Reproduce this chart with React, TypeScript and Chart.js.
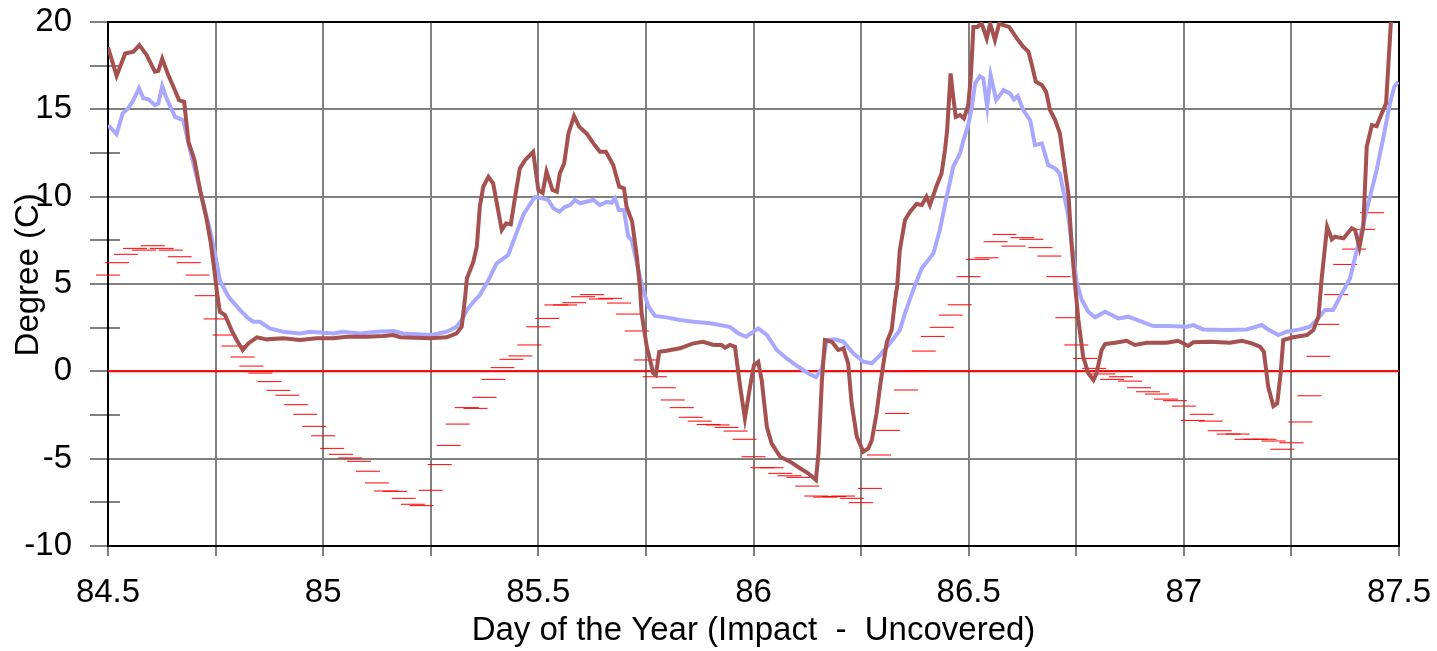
import React, { useEffect, useRef } from 'react';
import { Chart, registerables } from 'chart.js';

Chart.register(...registerables);

const FONT = '"Liberation Sans", Arial, sans-serif';

// Day-of-year axis range and tick labels
const xMin = 84.5;
const xMax = 87.5;
const xStep = 0.25;
const yMin = -10;
const yMax = 20;
const yStep = 2.5;

// Impact (brown) series
const impactDays = [
  84.500, 84.520, 84.540, 84.559, 84.573, 84.590, 84.609, 84.617, 84.626, 84.640,
  84.652, 84.665, 84.677, 84.687, 84.701, 84.714, 84.728, 84.739, 84.749, 84.754,
  84.760, 84.772, 84.787, 84.799, 84.813, 84.826, 84.846, 84.869, 84.907, 84.946,
  84.985, 85.023, 85.055, 85.101, 85.140, 85.163, 85.179, 85.248, 85.287, 85.310,
  85.322, 85.330, 85.334, 85.349, 85.357, 85.364, 85.372, 85.384, 85.395, 85.415,
  85.425, 85.436, 85.446, 85.457, 85.469, 85.488, 85.500, 85.510, 85.519, 85.533,
  85.543, 85.550, 85.560, 85.570, 85.583, 85.595, 85.612, 85.628, 85.643, 85.657,
  85.674, 85.688, 85.699, 85.705, 85.718, 85.729, 85.736, 85.740, 85.752, 85.767,
  85.773, 85.781, 85.798, 85.829, 85.860, 85.883, 85.907, 85.926, 85.934, 85.945,
  85.957, 85.969, 85.980, 85.992, 86.001, 86.011, 86.019, 86.031, 86.042, 86.062,
  86.085, 86.108, 86.127, 86.145, 86.151, 86.159, 86.166, 86.182, 86.197, 86.209,
  86.220, 86.228, 86.240, 86.255, 86.267, 86.275, 86.286, 86.294, 86.302, 86.310,
  86.321, 86.329, 86.334, 86.340, 86.352, 86.364, 86.379, 86.391, 86.402, 86.410,
  86.418, 86.426, 86.437, 86.445, 86.450, 86.458, 86.464, 86.470, 86.480, 86.489,
  86.499, 86.505, 86.511, 86.520, 86.530, 86.542, 86.550, 86.561, 86.571, 86.581,
  86.594, 86.612, 86.627, 86.639, 86.646, 86.656, 86.670, 86.680, 86.689, 86.701,
  86.712, 86.732, 86.739, 86.747, 86.755, 86.766, 86.778, 86.790, 86.797, 86.809,
  86.817, 86.840, 86.867, 86.886, 86.914, 86.960, 86.987, 87.010, 87.022, 87.061,
  87.107, 87.135, 87.158, 87.177, 87.186, 87.196, 87.208, 87.217, 87.225, 87.231,
  87.254, 87.286, 87.301, 87.313, 87.320, 87.324, 87.333, 87.344, 87.351, 87.371,
  87.390, 87.398, 87.408, 87.417, 87.425, 87.437, 87.448, 87.460, 87.470, 87.481,
  87.490,
];
const impactTemps = [
  18.55, 16.92, 18.2, 18.3, 18.68, 18.1, 17.15, 17.2, 17.9, 16.96,
  16.29, 15.53, 15.43, 13.14, 12.1, 10.38, 8.85, 7.33, 5.42, 4.37,
  3.41, 3.22, 2.36, 1.79, 1.22, 1.60, 1.95, 1.83, 1.89, 1.79,
  1.89, 1.89, 1.98, 1.98, 2.02, 2.08, 1.95, 1.89, 1.95, 2.17,
  2.55, 4.27, 5.32, 6.27, 7.13, 9.42, 10.57, 11.14, 10.76, 8.09,
  8.47, 8.41, 9.99, 11.62, 12.09, 12.57, 10.38, 10.22, 11.43, 10.38,
  10.28, 11.33, 11.9, 13.62, 14.61, 14.0, 13.62, 13.05, 12.57, 12.57,
  11.81, 10.57, 10.47, 9.42, 8.56, 6.56, 4.84, 3.32, 1.41, -0.11,
  -0.21, 1.12, 1.18, 1.32, 1.60, 1.69, 1.51, 1.51, 1.35, 1.51,
  1.41, -0.88, -2.69, -0.88, 0.36, 0.55, -0.50, -3.17, -4.12, -4.89,
  -5.17, -5.55, -5.84, -6.22, -4.69, -0.50, 1.79, 1.69, 1.22, 1.32,
  0.46, -1.83, -3.74, -4.60, -4.41, -3.93, -2.40, -0.88, 0.46, 1.69,
  2.36, 4.08, 4.9, 6.94, 8.66, 9.14, 9.58, 9.52, 9.99, 9.52,
  10.09, 10.66, 11.33, 12.67, 13.81, 17.06, 15.72, 14.57, 14.67, 14.48,
  15.24, 16.86, 19.72, 19.72, 19.92, 19.06, 19.92, 18.96, 19.92, 19.82,
  19.72, 19.06, 18.58, 18.29, 17.63, 16.58, 16.39, 16.00, 14.96, 14.38,
  13.62, 10.09, 7.33, 5.0, 2.94, 0.84, -0.11, -0.50, -0.11, 1.22,
  1.56, 1.64, 1.75, 1.51, 1.64, 1.64, 1.75, 1.45, 1.66, 1.69,
  1.64, 1.75, 1.60, 1.41, 1.12, -0.88, -1.99, -1.83, -0.11, 1.79,
  1.95, 2.08, 2.36, 3.13, 5.23, 6.18, 8.28, 7.56, 7.71, 7.61,
  8.19, 8.09, 7.10, 8.28, 12.86, 14.10, 14.04, 14.77, 15.34, 19.92,
  21.5,
];

// Uncovered (light blue) series
const uncoveredDays = [
  84.500, 84.520, 84.534, 84.547, 84.559, 84.572, 84.582, 84.594, 84.609, 84.617,
  84.626, 84.636, 84.656, 84.675, 84.687, 84.706, 84.721, 84.737, 84.753, 84.760,
  84.780, 84.807, 84.826, 84.838, 84.853, 84.876, 84.907, 84.946, 84.969, 85.024,
  85.047, 85.086, 85.124, 85.163, 85.186, 85.252, 85.287, 85.310, 85.322, 85.334,
  85.353, 85.364, 85.380, 85.388, 85.403, 85.419, 85.430, 85.446, 85.465, 85.477,
  85.492, 85.512, 85.523, 85.535, 85.549, 85.562, 85.574, 85.585, 85.597, 85.628,
  85.643, 85.659, 85.670, 85.678, 85.687, 85.699, 85.709, 85.717, 85.729, 85.743,
  85.756, 85.771, 85.798, 85.829, 85.860, 85.899, 85.945, 85.965, 85.983, 86.011,
  86.031, 86.054, 86.077, 86.104, 86.127, 86.145, 86.159, 86.170, 86.189, 86.209,
  86.232, 86.255, 86.275, 86.294, 86.317, 86.340, 86.352, 86.371, 86.391, 86.418,
  86.433, 86.449, 86.464, 86.480, 86.488, 86.499, 86.507, 86.515, 86.526, 86.534,
  86.543, 86.551, 86.564, 86.581, 86.596, 86.605, 86.614, 86.627, 86.643, 86.654,
  86.670, 86.685, 86.701, 86.712, 86.731, 86.751, 86.763, 86.778, 86.794, 86.817,
  86.848, 86.871, 86.929, 86.968, 87.007, 87.022, 87.045, 87.100, 87.146, 87.181,
  87.196, 87.220, 87.239, 87.270, 87.293, 87.309, 87.328, 87.347, 87.367, 87.386,
  87.402, 87.425, 87.448, 87.464, 87.479, 87.489, 87.498,
];
const uncoveredTemps = [
  14.10, 13.58, 14.77, 15.06, 15.53, 16.2, 15.63, 15.57, 15.24, 15.34,
  16.33, 15.63, 14.57, 14.38, 13.05, 11.14, 9.62, 8.09, 6.18, 5.2,
  4.27, 3.51, 3.03, 2.84, 2.84, 2.46, 2.27, 2.17, 2.27, 2.17,
  2.27, 2.17, 2.27, 2.31, 2.17, 2.08, 2.27, 2.55, 2.94, 3.51,
  4.08, 4.37, 5.04, 5.42, 6.18, 6.47, 6.66, 7.71, 8.95, 9.42,
  9.99, 9.9, 9.81, 9.33, 9.14, 9.42, 9.52, 9.81, 9.62, 9.81,
  9.52, 9.71, 9.65, 9.9, 9.23, 9.23, 7.71, 7.52, 6.18, 4.7,
  3.70, 3.17, 3.09, 2.94, 2.84, 2.75, 2.55, 2.17, 1.98, 2.46,
  2.08, 1.22, 0.74, 0.26, -0.11, -0.34, 0.17, 1.79, 1.83, 1.69,
  1.03, 0.55, 0.46, 0.93, 1.60, 2.36, 3.32, 4.65, 5.90, 6.75,
  8.09, 9.99, 11.71, 12.48, 13.24, 14.10, 15.06, 16.49, 16.9, 16.77,
  15.15, 16.96, 15.53, 16.10, 15.91, 15.57, 15.76, 14.96, 14.38, 12.95,
  13.05, 11.81, 11.62, 11.3, 8.95, 5.1, 4.08, 3.41, 3.09, 3.41,
  3.03, 3.13, 2.59, 2.59, 2.55, 2.65, 2.40, 2.36, 2.40, 2.65,
  2.40, 2.08, 2.27, 2.40, 2.55, 2.94, 3.51, 3.51, 4.46, 5.3,
  6.94, 9.23, 11.52, 13.43, 15.34, 16.29, 16.58,
];

// Half-hourly difference readings (red dash markers), starting at day 84.5
const diffStartDay = 84.5;
const diffReadingsPerDay = 48;
const diffTemps = [
  5.51, 6.22, 6.70, 7.04, 6.94, 7.19, 7.04, 6.94, 6.56, 6.22,
  5.51, 4.33, 3.00, 2.08, 1.45, 0.82, 0.30, -0.10, -0.59, -1.09,
  -1.37, -1.91, -2.46, -3.15, -3.69, -4.41, -4.75, -4.96, -5.15, -5.72,
  -6.39, -6.85, -6.87, -7.27, -7.61, -7.69, -6.81, -5.34, -4.24, -3.02,
  -2.08, -2.12, -1.49, -0.46, 0.21, 0.69, 0.88, 1.51, 2.55, 3.03,
  3.80, 3.80, 3.93, 4.27, 4.39, 4.14, 4.18, 3.91, 3.28, 2.31,
  0.65, -0.31, -0.94, -1.64, -2.08, -2.63, -2.85, -3.04, -3.07, -3.21,
  -3.42, -3.89, -4.89, -5.52, -5.52, -5.84, -5.98, -6.07, -6.57, -7.14,
  -7.20, -7.17, -7.14, -7.27, -7.52, -6.70, -4.79, -3.38, -2.41, -1.07,
  0.03, 1.16, 2.00, 2.52, 3.22, 3.81, 5.42, 6.41, 6.50, 7.42,
  7.84, 7.17, 7.65, 7.56, 7.08, 6.60, 5.42, 3.07, 1.51, 0.74,
  0.17, -0.15, -0.46, -0.31, -0.56, -0.94, -1.17, -1.30, -1.59, -1.68,
  -1.99, -2.81, -2.46, -2.85, -3.40, -3.59, -3.59, -3.89, -3.89, -3.89,
  -3.99, -4.46, -4.09, -2.90, -1.40, 0.86, 2.69, 4.39, 6.12, 7.00,
  8.13, 9.08,
];

// Zero reference line
const zeroDays = [xMin, xMax];
const zeroTemps = [0, 0];

const toPoints = (xs: number[], ys: number[]) => xs.map((x, i) => ({ x, y: ys[i] }));

// Black frame round the plot area, plus the short inward part of the minor y tick marks
const framePlugin = {
  id: 'frame',
  beforeDatasetsDraw(chart: any) {
    const { ctx, chartArea: a } = chart;
    const yScale = chart.scales.y;
    ctx.save();
    ctx.strokeStyle = '#808080';
    ctx.lineWidth = 2;
    yScale.ticks.forEach((t: any) => {
      if (t.value % 5 !== 0) {
        const py = Math.round(yScale.getPixelForValue(t.value));
        ctx.beginPath();
        ctx.moveTo(a.left, py);
        ctx.lineTo(a.left + 12, py);
        ctx.stroke();
      }
    });
    ctx.strokeStyle = '#000000';
    ctx.strokeRect(a.left, a.top, a.right - a.left, a.bottom - a.top);
    ctx.restore();
  },
};

const clearPadding = (s: any) => {
  s.paddingTop = 0;
  s.paddingBottom = 0;
  s.paddingLeft = 0;
  s.paddingRight = 0;
};

export default function App() {
  const canvasRef = useRef<HTMLCanvasElement>(null);

  useEffect(() => {
    const canvas = canvasRef.current;
    if (!canvas) return;
    const diffDays = diffTemps.map((_, i) => diffStartDay + i / diffReadingsPerDay);

    const chart = new Chart(canvas, {
      type: 'line',
      data: {
        datasets: [
          {
            label: 'Impact',
            data: toPoints(impactDays, impactTemps),
            borderColor: '#a5514f',
            borderWidth: 4,
            pointRadius: 0,
            tension: 0,
          },
          {
            label: 'Uncovered',
            data: toPoints(uncoveredDays, uncoveredTemps),
            borderColor: '#a8a8ff',
            borderWidth: 4,
            pointRadius: 0,
            tension: 0,
          },
          {
            label: 'Zero',
            data: toPoints(zeroDays, zeroTemps),
            borderColor: '#ff0000',
            borderWidth: 2,
            pointRadius: 0,
          },
          {
            label: 'Difference',
            data: toPoints(diffDays, diffTemps),
            showLine: false,
            pointStyle: 'line',
            pointRadius: 12,
            pointBorderWidth: 1,
            pointBorderColor: '#ff0000',
            pointBackgroundColor: '#ff0000',
            borderColor: '#ff0000',
            clip: false,
          } as any,
        ],
      },
      options: {
        animation: false,
        responsive: false,
        maintainAspectRatio: false,
        events: [],
        layout: { padding: { left: 0, top: 22, right: 38, bottom: 0 } },
        plugins: {
          legend: { display: false },
          tooltip: { enabled: false },
        },
        scales: {
          x: {
            type: 'linear',
            min: xMin,
            max: xMax,
            afterFit: (s: any) => { s.height = 105; clearPadding(s); },
            ticks: {
              stepSize: xStep,
              autoSkip: false,
              maxRotation: 0,
              color: '#000000',
              padding: 17,
              font: { family: FONT, size: 33 },
              callback: (v: any) => {
                const n = Number(v);
                return Math.abs(n * 2 - Math.round(n * 2)) < 1e-9 ? String(n) : '';
              },
            },
            grid: { color: '#808080', lineWidth: 2, tickColor: '#808080', tickLength: 10 },
            border: { display: true, color: '#000000', width: 2 },
            title: {
              display: true,
              text: 'Day of the Year (Impact  -  Uncovered)',
              color: '#000000',
              font: { family: FONT, size: 33 },
              padding: { top: 0, bottom: 0 },
            },
          },
          y: {
            type: 'linear',
            min: yMin,
            max: yMax,
            afterFit: (s: any) => { s.width = 108; clearPadding(s); },
            ticks: {
              stepSize: yStep,
              autoSkip: false,
              color: '#000000',
              padding: 18,
              font: { family: FONT, size: 33 },
              callback: (v: any) => (Number(v) % 5 === 0 ? String(v) : ''),
            },
            grid: {
              color: (ctx: any) => (ctx.tick && ctx.tick.value % 5 === 0 ? '#808080' : 'rgba(0,0,0,0)'),
              lineWidth: 2,
              tickColor: '#808080',
              tickLength: 18,
            },
            border: { display: true, color: '#000000', width: 2 },
            title: {
              display: true,
              text: '  Degree (C)',
              color: '#000000',
              font: { family: FONT, size: 33 },
              padding: { top: 9, bottom: 0 },
            },
          },
        },
      },
      plugins: [framePlugin],
    } as any);

    return () => chart.destroy();
  }, []);

  return (
    <div style={{ position: 'absolute', left: 0, top: 0, width: 1437, height: 651, background: '#ffffff' }}>
      <canvas ref={canvasRef} width={1437} height={651} style={{ display: 'block', width: 1437, height: 651 }} />
    </div>
  );
}
